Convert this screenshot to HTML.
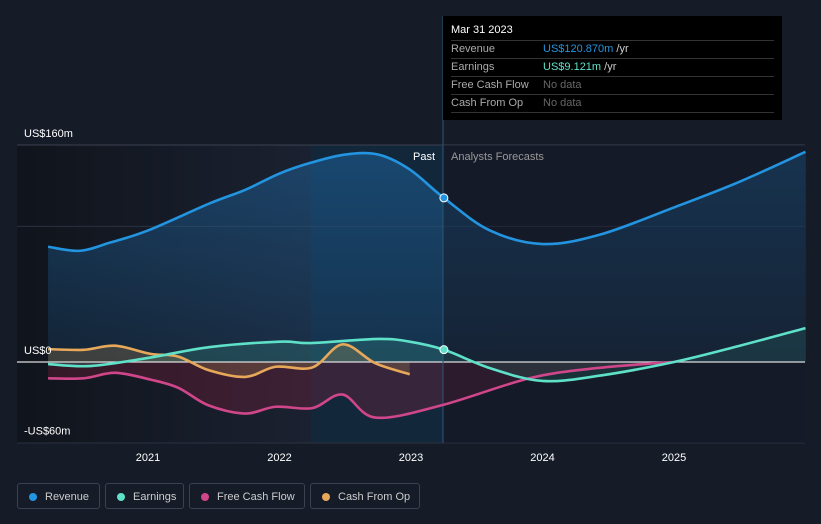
<!DOCTYPE html>
<html><head><meta charset="utf-8"><style>
body{margin:0;background:#151b27;width:821px;height:524px;overflow:hidden;font-family:"Liberation Sans",sans-serif}
svg{position:absolute;left:0;top:0}
.tt{position:absolute;left:443px;top:16px;width:339px;height:104px;background:#000;color:#fff;font-size:11px}
.tt .h{position:absolute;left:8px;top:8px;font-size:11px}
.row{position:absolute;left:8px;width:323px;height:17px;border-top:1px solid #333;color:#aaa;line-height:17px}
.row span{position:absolute;left:92px}
.leg{position:absolute;top:483px;height:26px;border:1px solid #3a4250;border-radius:3px;color:#ccc;font-size:11px;line-height:26px;box-sizing:border-box;padding-left:27px}
.leg i{position:absolute;left:11px;top:9px;width:8px;height:8px;border-radius:50%}
</style></head><body>
<svg width="821" height="524" id="chart">
<defs>
<linearGradient id="past" x1="0" x2="1"><stop offset="0" stop-color="#10141c"/><stop offset="1" stop-color="#1a2130"/></linearGradient>
<linearGradient id="revf" x1="0" x2="0" y1="0" y2="1"><stop offset="0" stop-color="#1f6fb0" stop-opacity="0.45"/><stop offset="1" stop-color="#1f6fb0" stop-opacity="0.15"/></linearGradient>
</defs>
<rect x="17" y="145" width="294" height="298" fill="url(#past)"/>
<rect x="311" y="145" width="132" height="298" fill="#13304a" opacity="0.6"/>
<g id="g"></g>
</svg>
<div class="tt">
<div class="h">Mar 31 2023</div>
<div class="row" style="top:24px">Revenue<span style="color:#2394df">US$120.870m <b style="font-weight:normal;color:#ccc">/yr</b></span></div>
<div class="row" style="top:42px">Earnings<span style="color:#5fe0c8">US$9.121m <b style="font-weight:normal;color:#ccc">/yr</b></span></div>
<div class="row" style="top:60px">Free Cash Flow<span style="color:#666">No data</span></div>
<div class="row" style="top:78px;border-bottom:1px solid #333">Cash From Op<span style="color:#666">No data</span></div>
</div>
<div class="leg" style="left:17px;width:83px"><i style="background:#2394df"></i>Revenue</div>
<div class="leg" style="left:105px;width:79px"><i style="background:#5fe0c8"></i>Earnings</div>
<div class="leg" style="left:189px;width:116px"><i style="background:#d0468a"></i>Free Cash Flow</div>
<div class="leg" style="left:310px;width:110px"><i style="background:#e8a85a"></i>Cash From Op</div>
<script>
const revT=[2020.24,2020.48,2020.71,2021,2021.47,2021.74,2022,2022.24,2022.5,2022.75,2022.99,2023.25,2023.6,2024,2024.44,2025,2025.5,2026];
const revV=[85,82,88,97,117,127,139,147,153,153,142,121,97,87,94,114,133,155];
const earnT=[2020.24,2020.56,2021,2021.47,2022,2022.24,2022.75,2022.99,2023.25,2023.6,2024,2024.44,2025,2025.5,2026];
const earnV=[-1.5,-3,3,11,15,14,17,15,9.1,-4.5,-14,-10,0,12,25];
const fcfT=[2020.24,2020.51,2020.75,2021.02,2021.23,2021.46,2021.74,2021.97,2022.25,2022.48,2022.73,2023.23,2023.9,2024.41,2024.99];
const fcfV=[-12,-12,-8,-13,-19,-32,-38,-33,-34,-24,-41,-32,-12,-4.5,0];
const cfoT=[2020.24,2020.51,2020.75,2021.02,2021.23,2021.46,2021.74,2021.97,2022.25,2022.48,2022.73,2022.99];
const cfoV=[9.5,9,12,6,4,-6,-11,-3.5,-4,13,-1,-9];
const yTicks=[160,0,-60];const yLabels=["US$160m","US$0","-US$60m"];
const xTicks=[2021,2022,2023,2024,2025];
const X=t=>148+(t-2021)*131.5, Y=v=>362-v*1.356;
const NS="http://www.w3.org/2000/svg",g=document.getElementById('g');
function mk(tag,at,txt){const e=document.createElementNS(NS,tag);for(const k in at)e.setAttribute(k,at[k]);if(txt!=null)e.textContent=txt;g.appendChild(e);return e;}
function path(T,V){const p=T.map((t,i)=>[X(t),Y(V[i])]);let d='M'+p[0];for(let i=0;i<p.length-1;i++){const a=p[Math.max(i-1,0)],b=p[i],c=p[i+1],e=p[Math.min(i+2,p.length-1)];const k=6;d+=` C${b[0]+(c[0]-a[0])/k},${b[1]+(c[1]-a[1])/k} ${c[0]-(e[0]-b[0])/k},${c[1]-(e[1]-b[1])/k} ${c[0]},${c[1]}`;}return d;}
function area(T,V){return path(T,V)+` L${X(T[T.length-1])},362 L${X(T[0])},362 Z`;}
let l=mk('line',{x1:17,x2:805,y1:Y(160),y2:Y(160),stroke:'#3a4250'});
l=mk('line',{x1:17,x2:805,y1:Y(100),y2:Y(100),stroke:'#2a3140'});
l=mk('line',{x1:17,x2:805,y1:443,y2:443,stroke:'#2a3140'});
let a=mk('path',{d:area(revT,revV),fill:'url(#revf)'});
a=mk('path',{d:area(fcfT,fcfV),fill:'#8a2040',opacity:0.3});
a=mk('path',{d:area(earnT,earnV),fill:'#3aa090',opacity:0.25});
a=mk('path',{d:area(cfoT,cfoV),fill:'#a08050',opacity:0.3});
let ov=mk('rect',{x:443,y:145,width:362,height:298,fill:'#151b27',opacity:0.35});
l=mk('line',{x1:17,x2:805,y1:362,y2:362,stroke:'#ddd','stroke-width':1.2});
l=mk('line',{x1:443,x2:443,y1:16,y2:443,stroke:'#2b5878'});
const S=[[fcfT,fcfV,'#d0468a','fcf-line'],[cfoT,cfoV,'#e8a85a','cfo-line'],[earnT,earnV,'#5fe0c8','earnings-line'],[revT,revV,'#2394df','revenue-line']];
S.forEach(s=>{const p=mk('path',{d:path(s[0],s[1]),fill:'none',stroke:s[2],'stroke-width':2.6});});
let c=mk('circle',{cx:X(2023.25),cy:Y(revV[11]),r:4,fill:'#2394df',stroke:'#fff','stroke-width':1});
c=mk('circle',{cx:X(2023.25),cy:Y(earnV[8]),r:4,fill:'#5fe0c8',stroke:'#fff','stroke-width':1});
yTicks.forEach((v,i)=>{const t=mk('text',{x:24,y:Y(v)-8+(i==2?-1:0),fill:'#fff','font-size':11},yLabels[i]);});
xTicks.forEach(v=>{const t=mk('text',{x:X(v),y:461,fill:'#fff','font-size':11,'text-anchor':'middle'},String(v));});
let t=mk('text',{x:435,y:160,fill:'#fff','font-size':11,'text-anchor':'end'},'Past');
t=mk('text',{x:451,y:160,fill:'#999','font-size':11},'Analysts Forecasts');
</script>
</body></html>
